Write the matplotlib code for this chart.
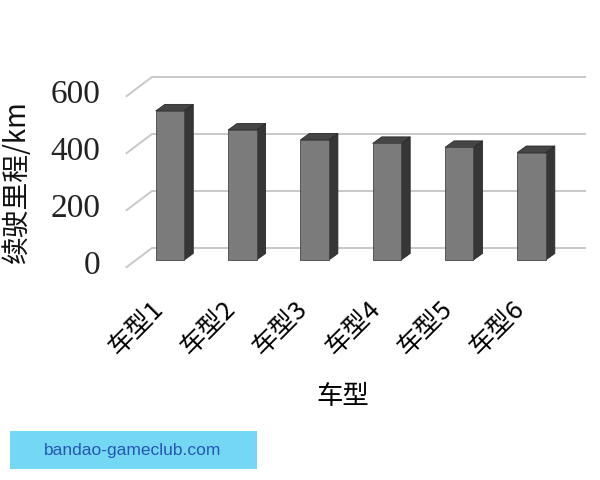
import matplotlib
matplotlib.use("Agg")
import matplotlib.pyplot as plt
from matplotlib.patches import Polygon, Rectangle

# data
models = ["车型1", "车型2", "车型3", "车型4", "车型5", "车型6"]
ranges_km = [523, 456, 421, 409, 395, 377]
y_ticks = [0, 200, 400, 600]

# pseudo-3D geometry (in data units: x = category index, y = km)
BAR_W = 0.394
BAR_DEPTH = (0.125, 23)      # side/top offset of each bar
WALL_BACK = (0.25, 42)       # back wall offset from the bar front plane
WALL_FRONT = (-0.1, -25)     # front edge of the floor
WALL_X = (-0.5, 5.5)

FACE = "#7b7b7b"
SIDE = "#363636"
TOP = "#454545"
GRID = "#c8c8c8"

fig = plt.figure(figsize=(6, 4.8), dpi=100)
ax = fig.add_axes([0, 0, 1, 1])
ax.set_xlim(-2.351, 5.947)
ax.set_ylim(-771.9, 912.3)
ax.axis("off")

# back wall gridlines and the slanted side-wall lines
for v in y_ticks:
    x0 = WALL_X[0] + WALL_BACK[0]
    x1 = WALL_X[1] + WALL_BACK[0]
    ax.plot([x0, x1], [v + WALL_BACK[1]] * 2, color=GRID, lw=1.4, zorder=1,
            solid_capstyle="butt")
    ax.plot([WALL_X[0] + WALL_FRONT[0], x0], [v + WALL_FRONT[1], v + WALL_BACK[1]],
            color=GRID, lw=1.4, zorder=1)
    ax.text(-0.968, v - 20, str(v), ha="right", va="center", fontsize=24,
            family="Liberation Serif", color="#222222")

# bars: front face, side face, top
dx, dy = BAR_DEPTH
for i, v in enumerate(ranges_km):
    l, r = i - BAR_W / 2, i + BAR_W / 2
    side = [(r, 0), (r + dx, dy), (r + dx, v + dy), (r, v)]
    top = [(l, v), (r, v), (r + dx, v + dy), (l + dx, v + dy)]
    ax.add_patch(Polygon(side, closed=True, fc=SIDE, ec="#2a2a2a", lw=0.6, zorder=2))
    ax.add_patch(Polygon(top, closed=True, fc=TOP, ec="#2a2a2a", lw=0.6, zorder=2))
    ax.add_patch(Rectangle((l, 0), BAR_W, v, fc=FACE, ec="#444444", lw=0.6, zorder=3))
    ax.text(i - 0.15, -157, models[i], rotation=45, rotation_mode="anchor",
            ha="right", va="center", fontsize=18.5, family="Noto Sans CJK SC",
            color="black")

ax.text(-2.116, 274, "续驶里程/km", rotation=90, ha="center", va="center",
        fontsize=20, family="Noto Sans CJK SC", color="#111111")
ax.text(2.393, -480, "车型", ha="center", va="center", fontsize=19,
        family="Noto Sans CJK SC", color="black")

# watermark box at the bottom left
fig.add_artist(Rectangle((10 / 600, 11 / 480), 247 / 600, 38 / 480,
                         transform=fig.transFigure, fc="#74d8f4", ec="none"))
fig.text(133 / 600, 29 / 480, "bandao-gameclub.com", ha="center", va="center",
         fontsize=12.5, family="Liberation Sans", color="#2556b4")

fig.savefig("out.png", dpi=100)
